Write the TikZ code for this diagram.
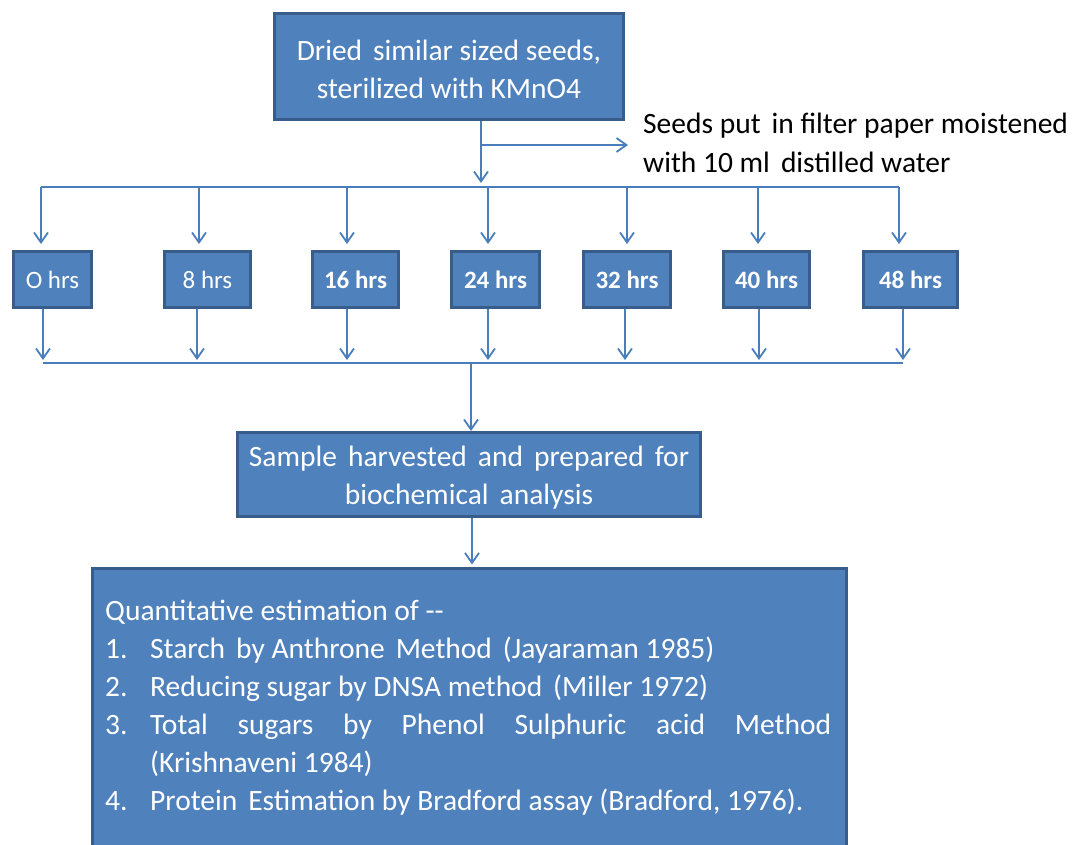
\documentclass[tikz,border=0pt]{standalone}
\usepackage{fontspec}
\setmainfont{Carlito}
\usetikzlibrary{arrows.meta}
\definecolor{boxfill}{HTML}{4F81BD}
\definecolor{boxline}{HTML}{385D8A}
\definecolor{flowline}{HTML}{4A7EBB}
\newcommand{\wgap}{\hspace{11pt}}
\newcommand{\lowline}[1]{\raisebox{-3pt}[\height][\depth]{#1}}

\begin{document}
\begin{tikzpicture}[x=1pt,y=-1pt]
        %
        % `stage' is used for the large text boxes.
        % `hour' is used for the sampling times.
        % `flow' and `bus' are used for the connectors.
        \tikzstyle{stage} = [draw=boxline,fill=boxfill,line width=3pt,text=white,align=center,inner sep=0pt,font=\fontsize{29.5}{38.5}\selectfont]
        \tikzstyle{hour} = [draw=boxline,fill=boxfill,line width=3pt,text=white,minimum height=56pt,inner sep=0pt,font=\fontsize{25}{30}\selectfont]
        \tikzstyle{note} = [align=left,inner sep=0pt,font=\fontsize{29.5}{38.5}\selectfont]
        \tikzstyle{flow} = [draw=flowline,line width=1.8pt,-{Straight Barb[length=10pt,width=14pt]}]
        \tikzstyle{bus} = [draw=flowline,line width=1.8pt]
        %
        % Page
        \path[fill=white,use as bounding box] (0,0) rectangle (1090,844);
        \clip (0,0) rectangle (1090,844);
        %
        % Seeds
        \node[stage,minimum width=349pt,minimum height=106pt] (seeds) at (449,66.5)
        	{\lowline{Dried\wgap similar sized seeds,}\\\lowline{sterilized with KMnO4}};
        \node[note,anchor=base west] (moist) at (643,172)
        	{Seeds put\wgap in filter paper moistened\\with 10 ml\wgap distilled water};
        \coordinate (branch) at (481,145);
        \coordinate (split) at (481,187);
        \draw[flow,shorten >=4pt] ([xshift=32pt]seeds.south) -- (split);
        \draw[flow,shorten >=15pt] (branch) -- (moist.west |- branch);
        %
        % Sampling times
        \node[hour,minimum width=78pt] (h0) at (52.5,279.5) {O hrs};
        \node[hour,minimum width=86pt] (h8) at (207.5,279.5) {8 hrs};
        \node[hour,minimum width=86pt] (h16) at (355.5,279.5) {\bfseries 16 hrs};
        \node[hour,minimum width=88pt] (h24) at (495.5,279.5) {\bfseries 24 hrs};
        \node[hour,minimum width=87pt] (h32) at (627,279.5) {\bfseries 32 hrs};
        \node[hour,minimum width=86pt] (h40) at (766.5,279.5) {\bfseries 40 hrs};
        \node[hour,minimum width=94pt] (h48) at (910.5,279.5) {\bfseries 48 hrs};
        %
        % Upper bus
        \coordinate (d0) at (41,187);
        \coordinate (d8) at (199,187);
        \coordinate (d16) at (347,187);
        \coordinate (d24) at (488,187);
        \coordinate (d32) at (627,187);
        \coordinate (d40) at (758,187);
        \coordinate (d48) at (899,187);
        \draw[bus] (d0) -- (d48);
        \draw[flow,shorten >=6pt] (d0) -- (d0 |- h0.north);
        \draw[flow,shorten >=6pt] (d8) -- (d8 |- h8.north);
        \draw[flow,shorten >=6pt] (d16) -- (d16 |- h16.north);
        \draw[flow,shorten >=6pt] (d24) -- (d24 |- h24.north);
        \draw[flow,shorten >=6pt] (d32) -- (d32 |- h32.north);
        \draw[flow,shorten >=6pt] (d40) -- (d40 |- h40.north);
        \draw[flow,shorten >=6pt] (d48) -- (d48 |- h48.north);
        %
        % Lower bus
        \coordinate (g0) at (43,363);
        \coordinate (g8) at (197,363);
        \coordinate (g16) at (347,363);
        \coordinate (g24) at (488,363);
        \coordinate (g32) at (625,363);
        \coordinate (g40) at (759,363);
        \coordinate (g48) at (903,363);
        \draw[bus] (g0) -- (g48);
        \draw[flow,shorten >=3pt] (h0.south -| g0) -- (g0);
        \draw[flow,shorten >=3pt] (h8.south -| g8) -- (g8);
        \draw[flow,shorten >=3pt] (h16.south -| g16) -- (g16);
        \draw[flow,shorten >=3pt] (h24.south -| g24) -- (g24);
        \draw[flow,shorten >=3pt] (h32.south -| g32) -- (g32);
        \draw[flow,shorten >=3pt] (h40.south -| g40) -- (g40);
        \draw[flow,shorten >=3pt] (h48.south -| g48) -- (g48);
        %
        % Harvest
        \coordinate (gather) at (471,363);
        \node[stage,minimum width=463pt,minimum height=84pt] (harvest) at (469,474.5)
        	{\lowline{Sample\wgap harvested\wgap and\wgap prepared\wgap for}\\\lowline{biochemical\wgap analysis}};
        \draw[flow] (gather) -- (gather |- harvest.north);
        %
        % Estimation
        \node[stage,minimum width=754pt,minimum height=400pt,anchor=north] (estim) at (469.5,566.5) {};
        \node[note,text=white,anchor=base west,font=\fontsize{29.5}{38}\selectfont] (estimtext) at (105,810)
        	{Quantitative estimation of -{}-\\
        	\makebox[45pt][l]{1.}Starch\wgap by Anthrone\wgap Method\wgap (Jayaraman 1985)\\
        	\makebox[45pt][l]{2.}Reducing sugar by DNSA method\wgap (Miller 1972)\\
        	\makebox[45pt][l]{3.}\makebox[681pt][s]{Total sugars by Phenol Sulphuric acid Method}\\
        	\hspace*{45pt}(Krishnaveni 1984)\\
        	\makebox[45pt][l]{4.}Protein\wgap Estimation by Bradford assay (Bradford, 1976).};
        \draw[flow,shorten >=2pt] ([xshift=3pt]harvest.south) -- ([xshift=3pt]harvest.south |- estim.north);
        %
\end{tikzpicture}
\end{document}
